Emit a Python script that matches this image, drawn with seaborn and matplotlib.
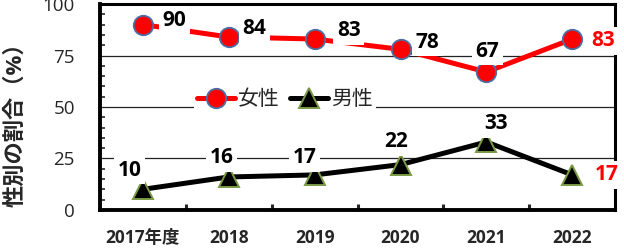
import pandas as pd
import seaborn as sns
import matplotlib.pyplot as plt

# data
years = ['2017年度', '2018', '2019', '2020', '2021', '2022']
female = [90, 84, 83, 78, 67, 83]
male = [10, 16, 17, 22, 33, 17]

df = pd.DataFrame({'pos': range(len(years)), 'female': female, 'male': male})

sns.set_style('white')
plt.rcParams['font.family'] = ['Open Sans', 'Noto Sans CJK JP', 'DejaVu Sans']

fig = plt.figure(figsize=(6.24, 2.52), dpi=100)
ax = fig.add_axes([0.160, 0.167, 0.826, 0.817])

# grid lines at 25 / 50 / 75
for v in [25, 50, 75]:
    ax.axhline(v, color='#222222', lw=0.9, zorder=0)

sns.lineplot(data=df, x='pos', y='female', ax=ax, color='red', lw=3.6,
             marker='o', markersize=14, markerfacecolor='red',
             markeredgecolor='#4a6fa5', markeredgewidth=1.3, label='女性', zorder=3)
sns.lineplot(data=df, x='pos', y='male', ax=ax, color='black', lw=3.6,
             marker='^', markersize=15, markerfacecolor='black',
             markeredgecolor='#7a9a45', markeredgewidth=1.4, label='男性', zorder=3)

box = dict(facecolor='white', edgecolor='none', pad=2.5)
last = len(years) - 1
# label offsets in points
f_off = [(23, 3), (18.7, 5.8), (24.5, 5.8), (19.4, 5), (0.7, 15), (22.3, -1.4)]
m_off = [(-9.4, 13.7), (-5, 13.7), (-7, 12.2), (-3, 16.6), (7, 13.3), (24.5, 0)]
for vals, offs in [(female, f_off), (male, m_off)]:
    for i, v in enumerate(vals):
        ax.annotate(str(v), (i, v), xytext=offs[i], textcoords='offset points',
                    ha='center', va='center', fontsize=15, fontweight='bold',
                    color='red' if i == last else 'black', bbox=box, zorder=5)

ax.set_xlim(-0.5, last + 0.5)
ax.set_ylim(0, 100)
ax.set_xticks(range(len(years)))
ax.set_xticklabels(years, fontweight='bold', fontsize=12.5)
ax.set_xticks([i + 0.5 for i in range(last)], minor=True)
ax.set_yticks([0, 25, 50, 75, 100])
ax.set_yticks(range(0, 101, 5), minor=True)
ax.tick_params(axis='y', labelsize=13.5, length=0, pad=18)
ax.tick_params(axis='y', which='minor', direction='in', length=3.6, width=1.2, left=True)
ax.tick_params(axis='x', which='major', length=0, pad=14)
ax.tick_params(axis='x', which='minor', direction='in', length=4, width=2.2, bottom=True)
ax.set_xlabel('')
ax.set_ylabel('性別の割合（%）', fontsize=16, fontweight='bold')
ax.yaxis.set_label_coords(-0.142, 0.44)

for side in ['left', 'bottom']:
    ax.spines[side].set_linewidth(2.8)
for side in ['top', 'right']:
    ax.spines[side].set_linewidth(2.2)
for s in ax.spines.values():
    s.set_color('black')
    s.set_zorder(1)

leg = ax.legend(loc='center', bbox_to_anchor=(0.359, 0.534), ncol=2, frameon=True,
                fontsize=15, handlelength=1.8, columnspacing=0.5, handletextpad=0.15,
                borderpad=0.15, borderaxespad=0, fancybox=False)
leg.get_frame().set_facecolor('white')
leg.get_frame().set_edgecolor('none')
leg.get_frame().set_alpha(1)
leg.set_zorder(4)

fig.savefig('out.png', dpi=100)
